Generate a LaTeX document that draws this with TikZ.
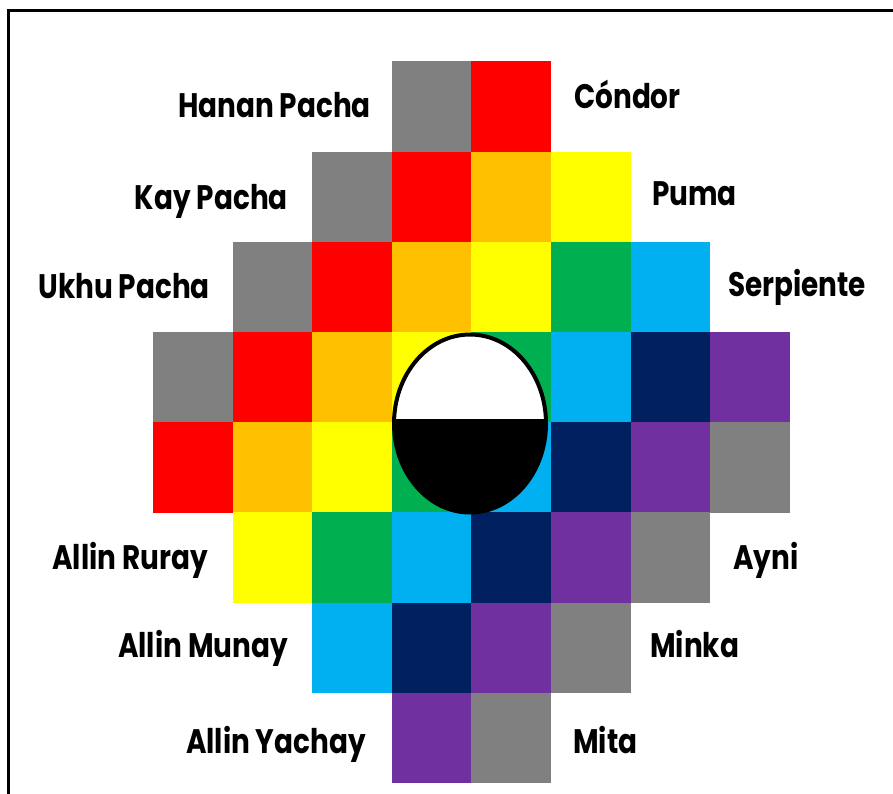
\documentclass[tikz,border=0pt]{standalone}
\usepackage{fontspec}
\setmainfont{Poppins}[FakeStretch=0.82]
\definecolor{cgray}{HTML}{808080}
\definecolor{cred}{HTML}{FF0000}
\definecolor{corange}{HTML}{FFC000}
\definecolor{cyellow}{HTML}{FFFF00}
\definecolor{cgreen}{HTML}{00B050}
\definecolor{ccyan}{HTML}{00B0F0}
\definecolor{cnavy}{HTML}{002060}
\definecolor{cpurple}{HTML}{7030A0}
\begin{document}
\begin{tikzpicture}[x=1pt,y=-1pt,
  cell/.style={draw=none,inner sep=0pt,minimum width=79.8pt,minimum height=90.4pt},
  lbl/.style={inner sep=0pt,font=\fontsize{34}{36}\selectfont\bfseries,text=black}]
\useasboundingbox (0,0) rectangle (893,794);
\fill[white] (0,0) rectangle (893,794);
% frame
\draw[line width=2.6pt] (8.5,794) -- (8.5,10.5) -- (893,10.5);
% grid
\foreach \c/\r/\col in {3/0/cgray,4/0/cred,
  2/1/cgray,3/1/cred,4/1/corange,5/1/cyellow,
  1/2/cgray,2/2/cred,3/2/corange,4/2/cyellow,5/2/cgreen,6/2/ccyan,
  0/3/cgray,1/3/cred,2/3/corange,3/3/cyellow,4/3/cgreen,5/3/ccyan,6/3/cnavy,7/3/cpurple,
  0/4/cred,1/4/corange,2/4/cyellow,3/4/cgreen,4/4/ccyan,5/4/cnavy,6/4/cpurple,7/4/cgray,
  1/5/cyellow,2/5/cgreen,3/5/ccyan,4/5/cnavy,5/5/cpurple,6/5/cgray,
  2/6/ccyan,3/6/cnavy,4/6/cpurple,5/6/cgray,
  3/7/cpurple,4/7/cgray}
  \node[cell,fill=\col] (c-\c-\r) at ({153+79.6*\c+39.8},{61.5+90.2*\r+45.1}) {};
% central ellipse
\coordinate (eye) at (470,423.5);
\fill[black] (eye) ellipse [x radius=76, y radius=89];
\begin{scope}
  \clip (380,320) rectangle (560,418.5);
  \fill[white] (eye) ellipse [x radius=76, y radius=89];
\end{scope}
\draw[black,line width=4pt] (eye) ellipse [x radius=76, y radius=89];
% labels left
\node[lbl,anchor=base east] (hanan) at (371,118) {Hanan Pacha};
\node[lbl,anchor=base east] (kay) at (288,210) {Kay Pacha};
\node[lbl,anchor=base east] (ukhu) at (210,298) {Ukhu Pacha};
\node[lbl,anchor=base east] (ruray) at (208,569) {Allin Ruray};
\node[lbl,anchor=base east] (munay) at (288,657) {Allin Munay};
\node[lbl,anchor=base east] (yachay) at (366,753) {Allin Yachay};
% labels right
\node[lbl,anchor=base west] (condor) at (574,109) {Cóndor};
\node[lbl,anchor=base west] (puma) at (652,206) {Puma};
\node[lbl,anchor=base west] (serp) at (728,296) {Serpiente};
\node[lbl,anchor=base west] (ayni) at (733,569) {Ayni};
\node[lbl,anchor=base west] (minka) at (650,657) {Minka};
\node[lbl,anchor=base west] (mita) at (573,753) {Mita};
\end{tikzpicture}
\end{document}
